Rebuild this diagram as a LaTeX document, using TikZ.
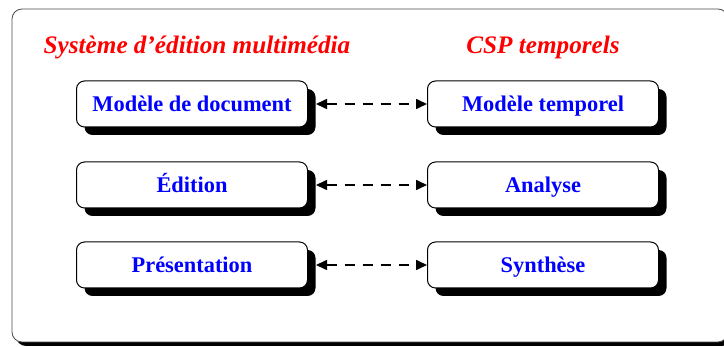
\documentclass[tikz,border=0pt]{standalone}
\usepackage{fontspec}
\setmainfont{Liberation Serif}
\usetikzlibrary{arrows.meta,shadows}

\tikzset{
  boite/.style={draw, fill=white, rounded corners=4pt, line width=0.5pt,
    minimum width=115.5pt, minimum height=23pt, text=blue,
    text height=9pt, text depth=1pt,
    font=\fontsize{11.2}{13}\selectfont\bfseries,
    drop shadow={shadow xshift=4pt, shadow yshift=-4pt, fill=black, opacity=1}},
  titre/.style={text=red, font=\fontsize{12.6}{15}\selectfont\bfseries\itshape},
  lien/.style={{Triangle[length=5.5pt,width=5pt]}-{Triangle[length=5.5pt,width=5pt]},
    dash pattern=on 5pt off 4pt, line width=0.8pt}
}

\begin{document}
\begin{tikzpicture}[x=0.5pt,y=-0.5pt]

\useasboundingbox (0,0) rectangle (724,347);
\clip (0,0) rectangle (724,347);
\coordinate (A) at (197,47);
\coordinate (B) at (543,47);
\coordinate (C) at (192,104);
\coordinate (D) at (192,185);
\coordinate (E) at (192,265);
\coordinate (F) at (543,104);
\coordinate (G) at (543,185);
\coordinate (H) at (543,265);

\fill [black, rounded corners=5pt] (16,13) rectangle (732,346);
\draw [gray!60!black, fill=white, rounded corners=5pt] (12,9) rectangle (728,342);

\node [titre] (systeme) at (A) {Système d'édition multimédia};
\node [titre] (csp) at (B) {CSP temporels};

\node [boite] (modele) at (C) {Modèle de document};
\node [boite] (edition) at (D) {Édition};
\node [boite] (presentation) at (E) {Présentation};
\node [boite] (temporel) at (F) {Modèle temporel};
\node [boite] (analyse) at (G) {Analyse};
\node [boite] (synthese) at (H) {Synthèse};

\draw [lien] ([xshift=4pt]modele.east) -- (temporel.west);
\draw [lien] ([xshift=4pt]edition.east) -- (analyse.west);
\draw [lien] ([xshift=4pt]presentation.east) -- (synthese.west);
\end{tikzpicture}
\end{document}
